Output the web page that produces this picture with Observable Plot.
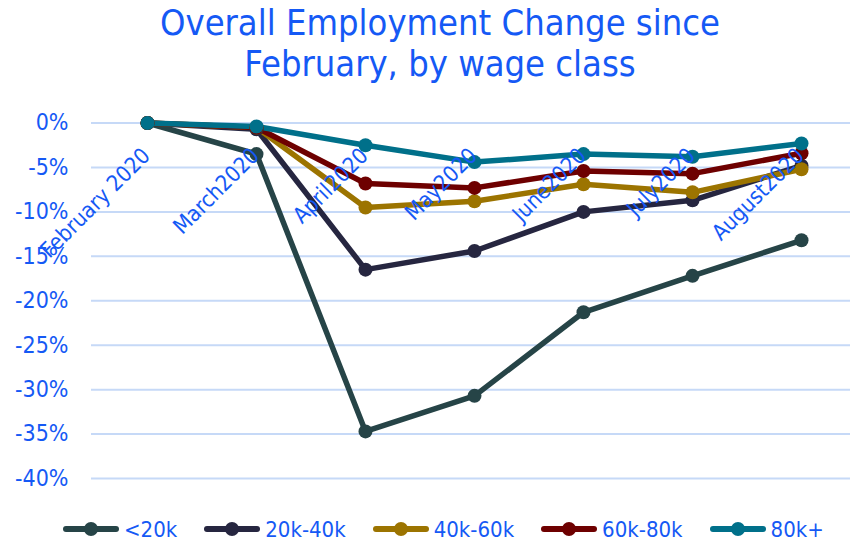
<!DOCTYPE html>
<html>
<head>
<meta charset="utf-8">
<script src="https://cdn.jsdelivr.net/npm/d3@7"></script>
<script src="https://cdn.jsdelivr.net/npm/@observablehq/plot@0.6"></script>
<style>
  body { margin: 0; background: #fff; font-family: "DejaVu Sans Condensed", "Liberation Sans", sans-serif; position: relative; width: 850px; height: 542px; overflow: hidden; }
  #title { position: absolute; left: 0; top: 0; width: 850px; height: 100px; box-sizing: border-box; padding-top: 2px; padding-left: 30px; text-align: center; font-size: 36px; line-height: 41px; color: #1559f5; white-space: nowrap; }
  #chart { position: absolute; left: 0; top: 100px; }
  #legend { position: absolute; left: 63px; top: 518px; width: 787px; height: 22px; display: flex; align-items: center; font-size: 22px; color: #1559f5; white-space: nowrap; }
  .item { display: flex; align-items: center; margin-right: 27px; flex-shrink: 0; }
  .item svg { margin-right: 5px; flex-shrink: 0; }
</style>
</head>
<body>
<div id="title">Overall Employment Change since<br>February, by wage class</div>
<div id="chart"></div>
<div id="legend"></div>
<script>
const months = ["February 2020", "March2020", "April2020", "May2020", "June2020", "July2020", "August2020"];
const seriesNames = ["<20k", "20k-40k", "40k-60k", "60k-80k", "80k+"];
const colors = ["#264447", "#262640", "#9c7400", "#6e0000", "#00708a"];
const under20k = [0, -3.5, -34.7, -30.7, -21.3, -17.2, -13.2];
const w20to40k = [0, -0.7, -16.5, -14.4, -10.0, -8.7, -4.8];
const w40to60k = [0, -0.5, -9.5, -8.8, -6.9, -7.8, -5.2];
const w60to80k = [0, -0.5, -6.8, -7.3, -5.4, -5.7, -3.4];
const over80k = [0, -0.4, -2.5, -4.4, -3.5, -3.8, -2.3];
const yTicks = [0, -5, -10, -15, -20, -25, -30, -35, -40];

const seriesValues = [under20k, w20to40k, w40to60k, w60to80k, over80k];
const rows = [];
seriesNames.forEach((s, i) => months.forEach((m, j) => rows.push({series: s, month: m, value: seriesValues[i][j]})));

const blue = "#1559f5";
const font = '"DejaVu Sans Condensed", "Liberation Sans", sans-serif';
const chart = Plot.plot({
  width: 850,
  height: 400,
  marginLeft: 91,
  marginRight: 0,
  marginTop: 22.5,
  marginBottom: 22,
  style: {fontFamily: font, fontSize: "23px", color: blue, background: "white", overflow: "visible"},
  x: {type: "point", domain: months, range: [91, 857], padding: 0.5, axis: null},
  y: {domain: [-40, 0], ticks: yTicks, tickFormat: d => `${d}%`, label: null},
  color: {domain: seriesNames, range: colors},
  marks: [
    Plot.ruleY(yTicks, {stroke: "#c6d9f7", strokeWidth: 2}),
    Plot.axisY({ticks: yTicks, tickSize: 0, tickPadding: 23, tickFormat: d => `${d}%`, fill: blue, label: null, fontSize: 23}),
    Plot.line(rows, {x: "month", y: "value", z: "series", stroke: "series", strokeWidth: 5.5, strokeLinejoin: "round", strokeLinecap: "round"}),
    Plot.dot(rows, {x: "month", y: "value", fill: "series", r: 7}),
    Plot.text(months, {x: d => d, y: () => 0, text: d => d, rotate: -45, textAnchor: "end", dx: -1, dy: 29, fill: blue, fontSize: 22})
  ]
});
document.getElementById("chart").appendChild(chart);

const legend = document.getElementById("legend");
seriesNames.forEach((s, i) => {
  const item = document.createElement("div");
  item.className = "item";
  item.innerHTML = `<svg width="56" height="16"><line x1="3" y1="8" x2="53" y2="8" stroke="${colors[i]}" stroke-width="6" stroke-linecap="round"/><circle cx="28" cy="8" r="7" fill="${colors[i]}"/></svg><span>${s.replace("<", "&lt;")}</span>`;
  legend.appendChild(item);
});
</script>
</body>
</html>
